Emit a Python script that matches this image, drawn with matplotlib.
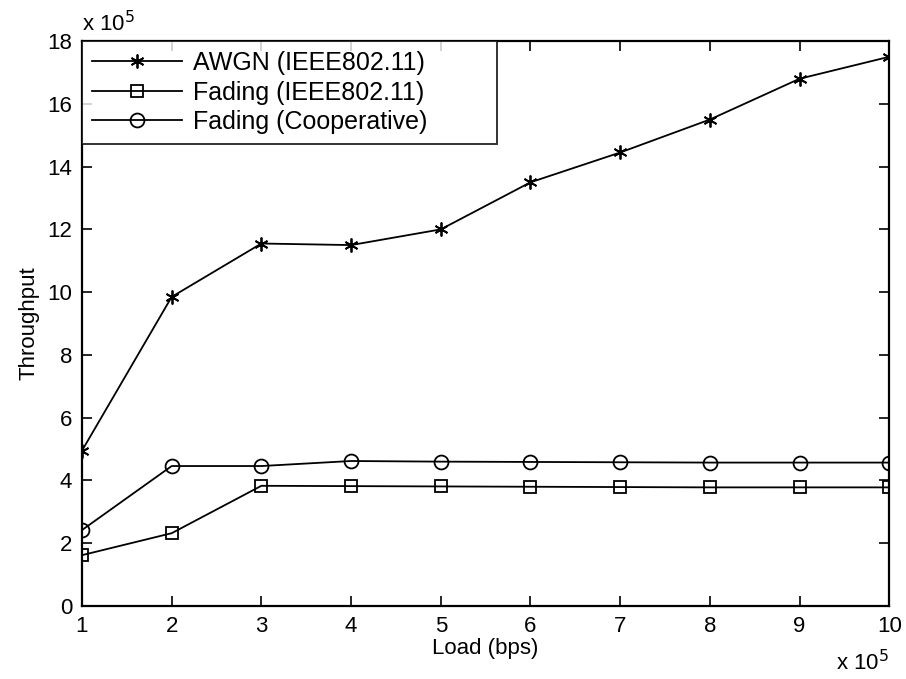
import matplotlib
matplotlib.use('Agg')
import matplotlib.pyplot as plt

# Data (values in units of 1e5)
load = [1, 2, 3, 4, 5, 6, 7, 8, 9, 10]
awgn = [4.95, 9.85, 11.55, 11.5, 12.0, 13.5, 14.45, 15.5, 16.8, 17.5]
fading_ieee = [1.62, 2.32, 3.83, 3.82, 3.81, 3.80, 3.79, 3.78, 3.78, 3.78]
fading_coop = [2.42, 4.46, 4.46, 4.62, 4.60, 4.59, 4.58, 4.57, 4.57, 4.57]

plt.rcParams['font.family'] = ['Liberation Sans', 'DejaVu Sans']
fs = 16

fig = plt.figure(figsize=(9.06, 6.79), dpi=100)
ax = fig.add_axes([0.0905, 0.1075, 0.891, 0.832])

# MATLAB style asterisk marker
ast = (6, 2, 0)
ax.plot(load, awgn, 'k-', marker=ast, markersize=10, markeredgewidth=1.3,
        linewidth=1.3, label='AWGN (IEEE802.11)')
ax.plot(load, fading_ieee, 'k-', marker='s', markersize=9, markerfacecolor='none',
        markeredgewidth=1.3, linewidth=1.3, label='Fading (IEEE802.11)')
ax.plot(load, fading_coop, 'k-', marker='o', markersize=10, markerfacecolor='none',
        markeredgewidth=1.3, linewidth=1.3, label='Fading (Cooperative)')

ax.set_xlim(1, 10)
ax.set_ylim(0, 18)
ax.set_xticks(range(1, 11))
ax.set_yticks(range(0, 19, 2))
ax.tick_params(direction='in', length=7, labelsize=fs, width=1.2, pad=7,
               top=True, right=True)
for s in ax.spines.values():
    s.set_linewidth(1.6)

ax.set_xlabel('Load (bps)', fontsize=fs, labelpad=1)
ax.set_ylabel('Throughput', fontsize=fs, labelpad=6)

# MATLAB-style exponent labels
ax.text(0.0, 1.008, r'x 10$^{5}$', transform=ax.transAxes, fontsize=fs,
        ha='left', va='bottom')
ax.text(1.0, -0.078, r'x 10$^{5}$', transform=ax.transAxes, fontsize=fs,
        ha='right', va='top')

leg = ax.legend(loc='upper left', bbox_to_anchor=(0, 0, 0.514, 1), mode='expand',
                fontsize=18, frameon=True, fancybox=False,
                edgecolor='black', borderaxespad=0, handlelength=3.6,
                borderpad=0.4, labelspacing=0.22, handletextpad=0.45)
leg.get_frame().set_linewidth(1.4)

plt.savefig('out.png', dpi=100)
